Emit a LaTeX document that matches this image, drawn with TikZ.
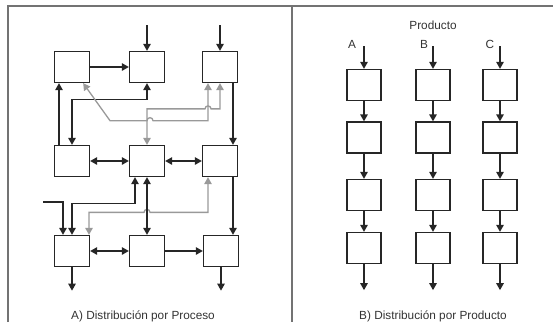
\documentclass[tikz,border=0pt]{standalone}
\usepackage{fontspec}
\setmainfont{Liberation Sans}
\usepackage{tikz}
\usetikzlibrary{arrows.meta,positioning}

\begin{document}
\begin{tikzpicture}[x=1pt, y=1pt,
    station/.style={rectangle, draw=black!85, fill=white, line width=1.3pt, minimum width=35pt, minimum height=31pt, inner sep=0pt},
    arrow/.style={-{Triangle[length=7pt,width=7.5pt]}, line width=1.3pt, draw=black!85},
    twoway/.style={{Triangle[length=7pt,width=7.5pt]}-{Triangle[length=7pt,width=7.5pt]}, line width=1.3pt, draw=black!85},
    grayway/.style={twoway, draw=black!40},
    frame/.style={draw=black!55, line width=1.8pt},
    label/.style={font=\fontsize{11.8}{14}\selectfont, text=black!80, anchor=base, inner sep=0pt}
]
\useasboundingbox (0,0) rectangle (553,-322);

% frame
\coordinate (topleft) at (8,-6);
\coordinate (topright) at (553,-6);
\coordinate (divtop) at (292,-6);
\draw[frame] (8,-322) -- (topleft) -- (topright);
\draw[frame] (divtop) -- (292,-322);

% A) process layout
\node[station] (p1) at (72,-67) {};
\node[station] (p2) at (147,-67) {};
\node[station] (p3) at (220,-67) {};
\node[station] (p4) at (72,-161) {};
\node[station] (p5) at (147,-161) {};
\node[station] (p6) at (220,-161) {};
\node[station] (p7) at (72,-251) {};
\node[station] (p8) at (147,-251) {};
\node[station] (p9) at (221,-251) {};

\coordinate (in2) at (147,-25);
\coordinate (in3) at (220,-25);
\coordinate (feed) at (43,-202);

\draw[arrow] (in2) -- (p2);
\draw[arrow] (in3) -- (p3);
\draw[arrow] (p1) -- (p2);
\draw[arrow] ([xshift=-13pt]p4.north) -- ([xshift=-13pt]p1.south);
\draw[twoway] (p4.north) -- ++(0,45.5) -| (p2.south);
\draw[grayway] ([xshift=-12pt]p3.south) -- ++(0,-37.5) -- ++(-55,0) arc (0:180:3) -- ++(-37,0) -- ([xshift=-7pt]p1.south east);
\draw[grayway] (p5.north) -- ++(0,36) -- ++(58,0) arc (180:0:3) -| (p3.south);
\draw[arrow] ([xshift=13pt]p3.south) -- ([xshift=13pt]p6.north);
\draw[twoway] (p4) -- (p5);
\draw[twoway] (p5) -- (p6);

\draw[arrow] (feed) -| ([xshift=-9pt]p7.north);
\draw[twoway] (p7.north) -- ++(0,31.5) -| ([xshift=-12pt]p5.south);
\draw[grayway] ([xshift=17pt]p7.north) -- ++(0,22.5) -- ++(55,0) arc (180:0:3) -| ([xshift=-12pt]p6.south);
\draw[twoway] (p5) -- (p8);
\draw[arrow] ([xshift=13pt]p6.south) -- ([xshift=12pt]p9.north);
\draw[twoway] (p7) -- (p8);
\draw[arrow] (p8) -- (p9);
\draw[arrow] (p7.south) -- ++(0,-23.5);
\draw[arrow] (p9.south) -- ++(0,-23.5);

\node[label] (capA) at (143,-319) {A) Distribución por Proceso};

% B) product layout
\node[label] (prod) at (433,-29.5) {Producto};
\node[label] (labA) at (352,-48) {A};
\node[label] (labB) at (424,-48) {B};
\node[label] (labC) at (490,-48) {C};

\coordinate (inA) at (364,-46);
\coordinate (inB) at (433,-46);
\coordinate (inC) at (500,-46);

\node[station, minimum width=34pt] (a1) at (364,-85) {};
\node[station, minimum width=34pt] (a2) at (364,-137.5) {};
\node[station, minimum width=34pt] (a3) at (364,-195) {};
\node[station, minimum width=34pt] (a4) at (364,-248) {};
\node[station, minimum width=34pt] (b1) at (433,-85) {};
\node[station, minimum width=34pt] (b2) at (433,-137.5) {};
\node[station, minimum width=34pt] (b3) at (433,-195) {};
\node[station, minimum width=34pt] (b4) at (433,-248) {};
\node[station, minimum width=34pt] (c1) at (500,-85) {};
\node[station, minimum width=34pt] (c2) at (500,-137.5) {};
\node[station, minimum width=34pt] (c3) at (500,-195) {};
\node[station, minimum width=34pt] (c4) at (500,-248) {};

\draw[arrow] (inA) -- (a1);
\draw[arrow] (a1) -- (a2);
\draw[arrow] (a2) -- (a3);
\draw[arrow] (a3) -- (a4);
\draw[arrow] (a4.south) -- ++(0,-26);
\draw[arrow] (inB) -- (b1);
\draw[arrow] (b1) -- (b2);
\draw[arrow] (b2) -- (b3);
\draw[arrow] (b3) -- (b4);
\draw[arrow] (b4.south) -- ++(0,-26);
\draw[arrow] (inC) -- (c1);
\draw[arrow] (c1) -- (c2);
\draw[arrow] (c2) -- (c3);
\draw[arrow] (c3) -- (c4);
\draw[arrow] (c4.south) -- ++(0,-26);

\node[label] (capB) at (433,-319) {B) Distribución por Producto};

\end{tikzpicture}
\end{document}
